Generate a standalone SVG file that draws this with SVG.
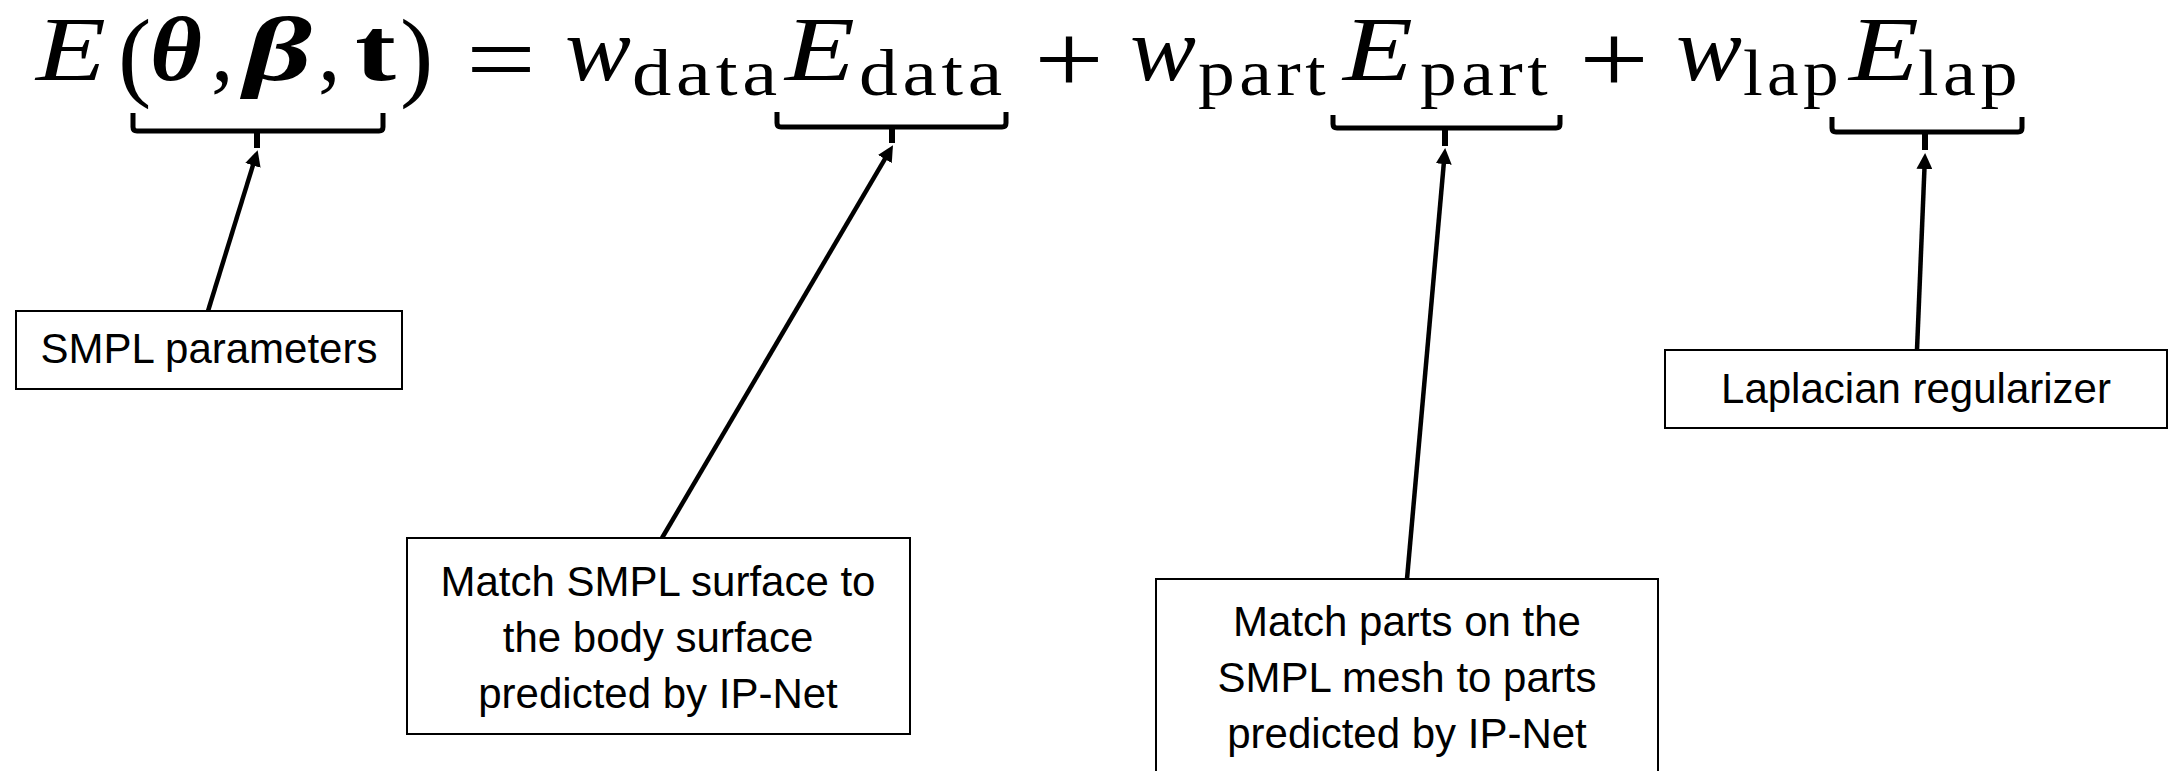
<svg xmlns="http://www.w3.org/2000/svg" width="2174" height="771" viewBox="0 0 2174 771">
<defs>
<style>
.mi{font-family:"Liberation Serif",serif;font-style:italic;font-size:92px;fill:#000}
.mb{font-family:"Liberation Serif",serif;font-style:italic;font-weight:bold;font-size:90px;fill:#000}
.rm{font-family:"Liberation Serif",serif;font-size:90px;fill:#000}
.sub{font-family:"Liberation Serif",serif;font-size:66px;letter-spacing:4px;fill:#000}
.par{font-family:"Liberation Serif",serif;font-size:100px;fill:#000}
.op{font-family:"Liberation Serif",serif;font-size:100px;fill:#000}
.box{fill:#fff;stroke:#000;stroke-width:2}
.lbl{font-family:"Liberation Sans",Arial,sans-serif;font-size:42px;fill:#000;text-anchor:middle}
.brace{fill:none;stroke:#000;stroke-width:5;stroke-linejoin:round}
.conn{stroke:#000;stroke-width:4.5;fill:none}
</style>
<marker id="ah" markerUnits="userSpaceOnUse" markerWidth="18" markerHeight="16" refX="4" refY="8" orient="auto">
<path d="M0,0 L16,8 L0,16 z" fill="#000"/>
</marker>
</defs>
<rect width="2174" height="771" fill="#fff"/>
<g id="formula">
<text class="mi" x="36" y="80" textLength="70" lengthAdjust="spacingAndGlyphs">E</text>
<text class="par" x="118" y="88">(</text>
<text class="mb" x="150" y="80" textLength="52" lengthAdjust="spacingAndGlyphs">θ</text>
<text class="rm" x="211" y="80">,</text>
<text class="mb" x="244" y="80" textLength="68" lengthAdjust="spacingAndGlyphs">β</text>
<text class="rm" x="318" y="80">,</text>
<text class="rm" x="355" y="80" font-weight="bold" textLength="41" lengthAdjust="spacingAndGlyphs">t</text>
<text class="par" x="400" y="88">)</text>
<text class="op" x="466" y="93" textLength="70" lengthAdjust="spacingAndGlyphs">=</text>
<text class="mi" x="565" y="80" textLength="66" lengthAdjust="spacingAndGlyphs">w</text>
<text class="sub" x="632" y="95" textLength="150" lengthAdjust="spacingAndGlyphs">data</text>
<text class="mi" x="785" y="80" textLength="70" lengthAdjust="spacingAndGlyphs">E</text>
<text class="sub" x="859" y="95" textLength="148" lengthAdjust="spacingAndGlyphs">data</text>
<text class="op" x="1034" y="93" textLength="70" lengthAdjust="spacingAndGlyphs">+</text>
<text class="mi" x="1130" y="80" textLength="66" lengthAdjust="spacingAndGlyphs">w</text>
<text class="sub" x="1198" y="95" textLength="132" lengthAdjust="spacingAndGlyphs">part</text>
<text class="mi" x="1343" y="80" textLength="70" lengthAdjust="spacingAndGlyphs">E</text>
<text class="sub" x="1420" y="95" textLength="132" lengthAdjust="spacingAndGlyphs">part</text>
<text class="op" x="1579" y="93" textLength="70" lengthAdjust="spacingAndGlyphs">+</text>
<text class="mi" x="1676" y="80" textLength="66" lengthAdjust="spacingAndGlyphs">w</text>
<text class="sub" x="1743" y="95" textLength="100" lengthAdjust="spacingAndGlyphs">lap</text>
<text class="mi" x="1849" y="80" textLength="70" lengthAdjust="spacingAndGlyphs">E</text>
<text class="sub" x="1918" y="95" textLength="104" lengthAdjust="spacingAndGlyphs">lap</text>
</g>
<g id="braces">
<path class="brace" d="M133,113 V127 Q133,131 137,131 H379 Q383,131 383,127 V113"/>
<rect x="254" y="131" width="6" height="17"/>
<path class="brace" d="M777,112 V123 Q777,127 781,127 H1002 Q1006,127 1006,123 V112"/>
<rect x="889" y="127" width="6" height="16"/>
<path class="brace" d="M1333,115 V124 Q1333,128 1337,128 H1556 Q1560,128 1560,124 V115"/>
<rect x="1442" y="128" width="6" height="18"/>
<path class="brace" d="M1832,117 V128 Q1832,132 1836,132 H2018 Q2022,132 2022,128 V117"/>
<rect x="1922" y="132" width="6" height="18"/>
</g>
<g id="connectors">
<line class="conn" x1="208" y1="311" x2="254.1" y2="161.6" marker-end="url(#ah)"/>
<line class="conn" x1="662" y1="538" x2="886.9" y2="155.6" marker-end="url(#ah)"/>
<line class="conn" x1="1407" y1="579" x2="1444.1" y2="160" marker-end="url(#ah)"/>
<line class="conn" x1="1917" y1="350" x2="1924.6" y2="165" marker-end="url(#ah)"/>
</g>
<g id="node-smpl-params">
<rect class="box" x="16" y="311" width="386" height="78"/>
<text class="lbl" x="209" y="363">SMPL parameters</text>
</g>
<g id="node-data">
<rect class="box" x="407" y="538" width="503" height="196"/>
<text class="lbl" x="658" y="596">Match SMPL surface to</text>
<text class="lbl" x="658" y="652">the body surface</text>
<text class="lbl" x="658" y="708">predicted by IP-Net</text>
</g>
<g id="node-part">
<rect class="box" x="1156" y="579" width="502" height="220"/>
<text class="lbl" x="1407" y="636">Match parts on the</text>
<text class="lbl" x="1407" y="692">SMPL mesh to parts</text>
<text class="lbl" x="1407" y="748">predicted by IP-Net</text>
</g>
<g id="node-lap">
<rect class="box" x="1665" y="350" width="502" height="78"/>
<text class="lbl" x="1916" y="403">Laplacian regularizer</text>
</g>
</svg>
